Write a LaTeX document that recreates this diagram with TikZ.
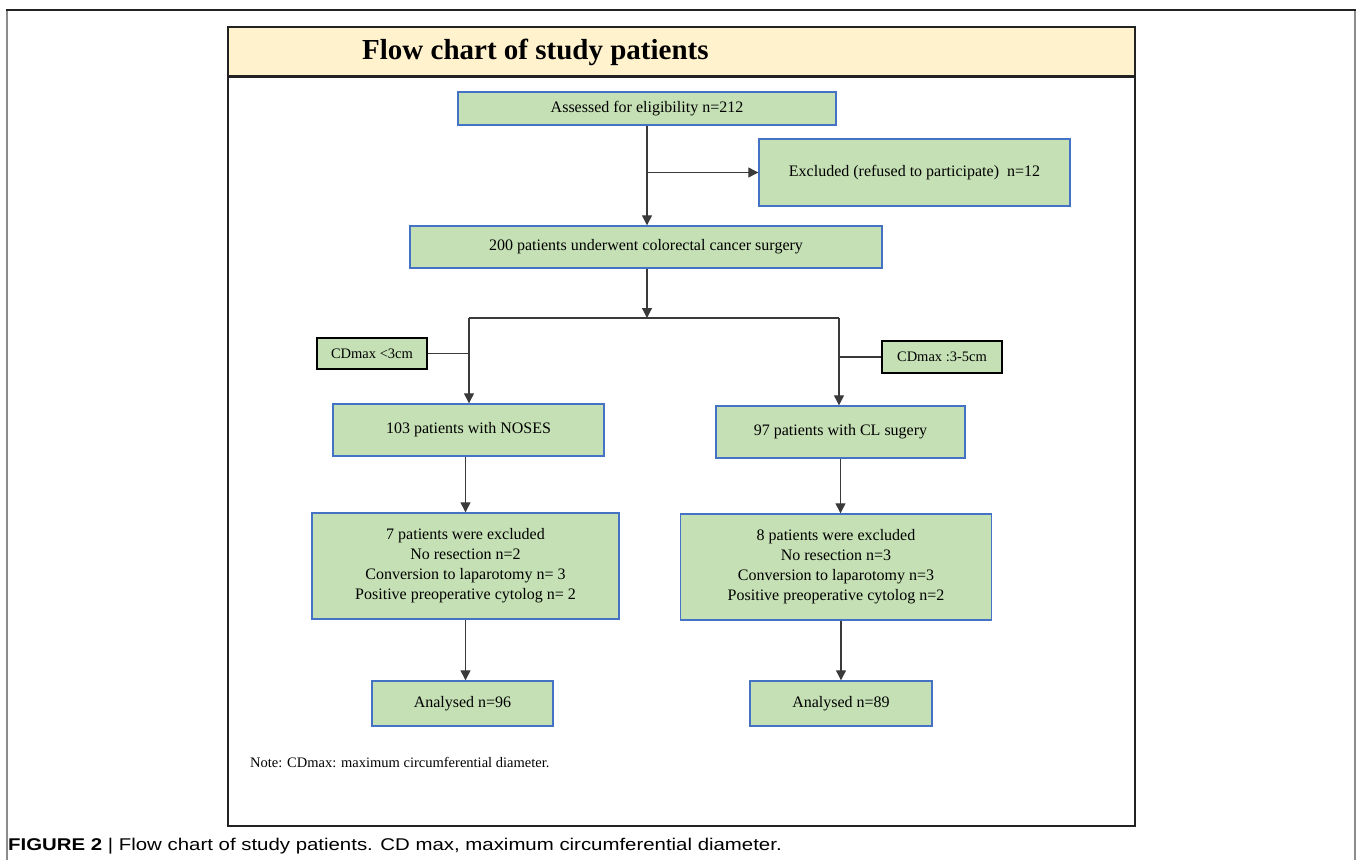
\documentclass[tikz,border=0pt]{standalone}
\usepackage{fontspec}
\setmainfont{Liberation Serif}
\newfontfamily\capfont{Liberation Sans}
\usetikzlibrary{arrows.meta}
\definecolor{boxgreen}{HTML}{C5E0B4}
\definecolor{boxblue}{HTML}{4472C4}
\definecolor{titlefill}{HTML}{FFF2CC}
\definecolor{framedark}{HTML}{222222}
\definecolor{linegray}{HTML}{3A3A3A}
\definecolor{outergray}{HTML}{8C8C8C}
\begin{document}
\begin{tikzpicture}[x=1pt,y=-1pt,
  box/.style={draw=boxblue, fill=boxgreen, line width=1.4pt, inner sep=0pt, align=center,
    font=\fontsize{16}{20}\selectfont},
  cdbox/.style={draw=black, fill=boxgreen, line width=1.4pt, inner sep=0pt, align=center,
    font=\fontsize{14.5}{17}\selectfont},
  conn/.style={draw=linegray, line width=1.2pt},
  arr/.style={conn, -{Triangle[length=10pt,width=10pt]}}]
\useasboundingbox (0,0) rectangle (1358,860);
% outer figure frame
\draw[outergray, line width=2pt] (7,860) -- (7,10);
\draw[outergray, line width=2pt] (1355,860) -- (1355,10);
\draw[framedark, line width=1.5pt] (6,10) -- (1356,10);
% inner frame and title band
\filldraw[fill=titlefill, draw=framedark, line width=2pt] (228,27) rectangle (1135,76);
\draw[framedark, line width=2pt] (228,27) rectangle (1135,826);
\draw[framedark, line width=3pt] (228,76) -- (1135,76);
\node[anchor=west, inner sep=0pt, font=\fontsize{29}{34}\selectfont\bfseries] (title) at (362,52) {Flow chart of study patients};
% boxes
\node[box, minimum width=378pt, minimum height=33pt] (assess) at (647,108.5) {Assessed for eligibility n=212};
\node[box, minimum width=311pt, minimum height=67pt] (excl) at (914.5,172.5) {Excluded (refused to participate)~~n=12};
\node[box, minimum width=472pt, minimum height=42pt] (surg) at (646,247) {200 patients underwent colorectal cancer surgery};
\node[cdbox, minimum width=110pt, minimum height=31pt] (cd1) at (372,353.5) {CDmax {<}3cm};
\node[cdbox, minimum width=120pt, minimum height=32pt] (cd2) at (942,357) {CDmax :3-5cm};
\node[box, minimum width=271pt, minimum height=52pt] (noses) at (468.5,430) {103 patients with NOSES};
\node[box, minimum width=249pt, minimum height=52pt] (cl) at (840.5,432) {97 patients with CL sugery};
\node[box, minimum width=307pt, minimum height=106pt] (ex1) at (465.5,566) {7 patients were excluded\\No resection n=2\\Conversion to laparotomy n= 3\\Positive preoperative cytolog n= 2};
\node[box, minimum width=311pt, minimum height=106pt] (ex2) at (836,567) {8 patients were excluded\\No resection n=3\\Conversion to laparotomy n=3\\Positive preoperative cytolog n=2};
\node[box, minimum width=181pt, minimum height=45pt] (an1) at (462.5,703.5) {Analysed n=96};
\node[box, minimum width=182pt, minimum height=45pt] (an2) at (841,703.5) {Analysed n=89};
% connectors
\draw[arr] (assess.south) -- (assess.south |- surg.north);
\draw[arr] (assess.south |- excl.west) -- (excl.west);
\coordinate (split) at (647,318);
\coordinate (jl) at (469,318);
\coordinate (jr) at (839,318);
\draw[arr] (surg.south -| split) -- (split);
\draw[conn] (jl) -- (jr);
\draw[arr] (jl) -- (jl |- noses.north);
\draw[arr] (jr) -- (jr |- cl.north);
\draw[conn] (cd1.east) -- (jl |- cd1.east);
\draw[conn] (cd2.west) -- (jr |- cd2.west);
\draw[arr] (noses.south -| ex1.north) -- (ex1.north);
\draw[arr] (ex1.south) -- (ex1.south |- an1.north);
\draw[arr] (cl.south) -- (cl.south |- ex2.north);
\draw[arr] (ex2.south -| an2.north) -- (an2.north);
% note and caption
\node[anchor=west, inner sep=0pt, font=\fontsize{14.5}{17}\selectfont] (note) at (250,762) {Note: CDmax: maximum circumferential diameter.};
\node[anchor=base west, inner sep=0pt, font=\capfont\fontsize{17}{20}\selectfont] (cap) at (8,850) {\scalebox{1.2}[1]{\textbf{FIGURE 2} | Flow chart of study patients. CD max, maximum circumferential diameter.}};
\end{tikzpicture}
\end{document}
